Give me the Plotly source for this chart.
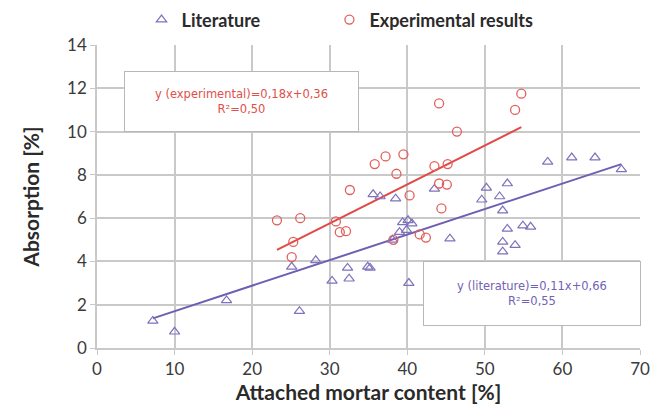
import plotly.graph_objects as go
import numpy as np

# Literature data (attached mortar content %, absorption %)
lit_x = [7.2, 10.0, 16.7, 25.1, 26.1, 28.2, 30.3, 32.3, 32.5, 34.9, 35.2, 35.6, 36.5, 38.5,
         38.1, 39.0, 39.9, 39.4, 40.1, 40.6, 40.2, 43.5, 45.5, 49.6, 50.2, 51.9, 52.9, 52.3,
         52.9, 54.9, 55.9, 52.3, 53.9, 52.3, 58.1, 61.2, 64.2, 67.6]
lit_y = [1.25, 0.75, 2.2, 3.75, 1.7, 4.05, 3.1, 3.7, 3.2, 3.75, 3.7, 7.1, 7.0, 6.9,
         5.0, 5.35, 5.45, 5.8, 5.9, 5.75, 3.0, 7.35, 5.05, 6.85, 7.4, 7.0, 7.6, 6.35,
         5.5, 5.65, 5.6, 4.9, 4.75, 4.45, 8.6, 8.8, 8.8, 8.25]

# Experimental data
exp_x = [23.2, 25.1, 25.3, 26.2, 30.8, 31.3, 32.1, 32.6, 35.8, 37.2, 38.6, 39.5, 38.2,
         40.3, 41.6, 42.4, 43.5, 45.2, 44.1, 45.1, 44.4, 44.1, 46.4, 53.9, 54.7]
exp_y = [5.9, 4.2, 4.9, 6.0, 5.85, 5.35, 5.4, 7.3, 8.5, 8.85, 8.05, 8.95, 5.0,
         7.05, 5.25, 5.1, 8.4, 8.5, 7.6, 7.55, 6.45, 11.3, 10.0, 11.0, 11.75]

# Trendline coefficients as drawn (slope, intercept)
lit_trend = [0.118, 0.52]
exp_trend = [0.18, 0.36]

lit_eq = ["y (literature)=0,11x+0,66", "R²=0,55"]
exp_eq = ["y (experimental)=0,18x+0,36", "R²=0,50"]

x_ticks = [0, 10, 20, 30, 40, 50, 60, 70]
y_ticks = [0, 2, 4, 6, 8, 10, 12, 14]

LIT_C = "#7f72bd"
LIT_LINE = "#6f5fb3"
EXP_C = "#e2605c"
EXP_LINE = "#e04a44"
GRID = "#c9c9c9"
TXT = "#3a3a3a"
FONT = "Lato"

fig = go.Figure()

lx = np.array([min(lit_x), max(lit_x)])
fig.add_trace(go.Scatter(x=lx, y=lit_trend[0] * lx + lit_trend[1], mode="lines",
                         line=dict(color=LIT_LINE, width=2), showlegend=False, hoverinfo="skip"))
ex = np.array([min(exp_x), max(exp_x)])
fig.add_trace(go.Scatter(x=ex, y=exp_trend[0] * ex + exp_trend[1], mode="lines",
                         line=dict(color=EXP_LINE, width=2), showlegend=False, hoverinfo="skip"))

fig.add_trace(go.Scatter(x=lit_x, y=lit_y, mode="markers", name="Literature", legend="legend",
                         marker=dict(symbol="triangle-up-open", size=9, color=LIT_C,
                                     line=dict(width=1.2, color=LIT_C))))
fig.add_trace(go.Scatter(x=exp_x, y=exp_y, mode="markers", name="Experimental results",
                         legend="legend2",
                         marker=dict(symbol="circle-open", size=9, color=EXP_C,
                                     line=dict(width=1.3, color=EXP_C))))

ANN_FONT = "DejaVu Sans"
fig.add_annotation(x=18.6, y=11.4, xref="x", yref="y", text="<br>".join(exp_eq),
                   showarrow=False, width=231, height=57, bgcolor="white",
                   bordercolor="#b8b8b8", borderwidth=1, borderpad=1,
                   font=dict(family=ANN_FONT, size=11.5, color="#e0504a"), align="center")
fig.add_annotation(x=56.1, y=2.5, xref="x", yref="y", text="<br>".join(lit_eq),
                   showarrow=False, width=214, height=61, bgcolor="white",
                   bordercolor="#b8b8b8", borderwidth=1, borderpad=1,
                   font=dict(family=ANN_FONT, size=11.5, color="#7262b5"), align="center")

leg_font = dict(family=FONT, size=18, color="#2a2a2a", weight="bold")
fig.update_layout(
    width=651, height=410,
    margin=dict(l=97, r=11, t=45, b=62, autoexpand=False),
    paper_bgcolor="white", plot_bgcolor="white",
    font=dict(family=FONT, size=16, color=TXT),
    legend=dict(orientation="h", x=0.082, y=1.022, xanchor="left", yanchor="bottom",
                font=leg_font, itemwidth=30, bgcolor="rgba(0,0,0,0)"),
    legend2=dict(orientation="h", x=0.428, y=1.022, xanchor="left", yanchor="bottom",
                 font=leg_font, itemwidth=30, bgcolor="rgba(0,0,0,0)"),
    xaxis=dict(range=[0, 70], tickvals=x_ticks, showgrid=True, gridcolor=GRID, gridwidth=1.5,
               zeroline=False, showline=True, linecolor=GRID, linewidth=1.5, automargin=False,
               ticks="outside", ticklen=5, tickcolor=GRID,
               tickfont=dict(family=FONT, size=17, color=TXT),
               title=dict(text="<b>Attached mortar content [%]</b>", standoff=6,
                          font=dict(family=FONT, size=21, color="#2a2a2a"))),
    yaxis=dict(range=[0, 14], tickvals=y_ticks, showgrid=True, gridcolor=GRID, gridwidth=1.5,
               zeroline=False, showline=True, linecolor=GRID, linewidth=1.5, automargin=False,
               ticks="outside", ticklen=5, tickcolor=GRID,
               tickfont=dict(family=FONT, size=17, color=TXT),
               title=dict(text="<b>Absorption [%]</b>", standoff=22,
                          font=dict(family=FONT, size=21, color="#2a2a2a"))),
)

fig.write_html("out.html")
